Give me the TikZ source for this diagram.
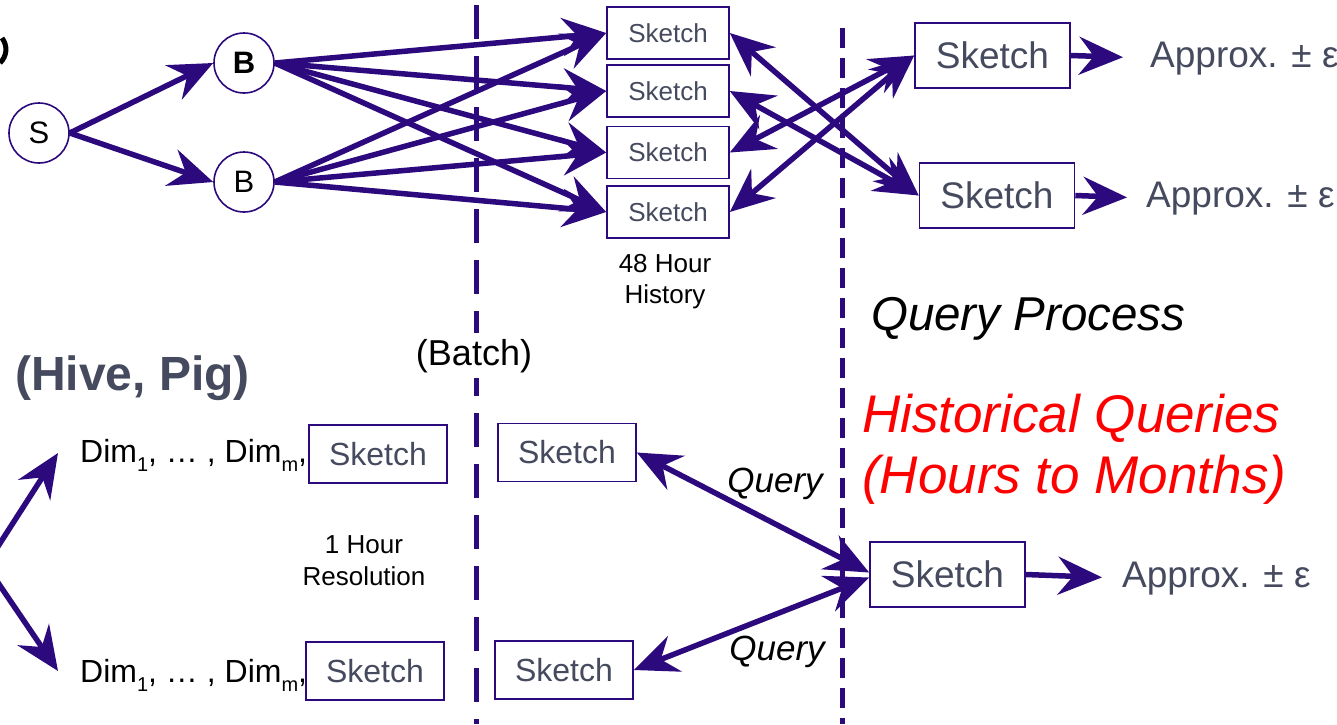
\documentclass[tikz,border=0pt]{standalone}
\usepackage{fontspec}
\setmainfont{Liberation Sans}
\usetikzlibrary{arrows.meta,calc}
\definecolor{pcol}{RGB}{44,10,126}
\definecolor{tcol}{RGB}{70,74,94}
\definecolor{rcol}{RGB}{255,0,0}
\newcommand{\fsz}[1]{\fontsize{#1}{#1}\selectfont}
\newcommand{\lowsub}[1]{\raisebox{-9pt}{\fontsize{20}{20}\selectfont #1}}
\tikzset{
  circ/.style={circle,draw=pcol,line width=1.6pt,fill=white,minimum size=60pt,inner sep=0pt,text=black,font=\fsz{31}},
  skbox/.style={draw=pcol,line width=1.6pt,fill=white,text=tcol,inner sep=0pt},
  sksmall/.style={skbox,minimum width=122pt,minimum height=52pt,font=\fsz{26}},
  skmid/.style={skbox,minimum width=138pt,minimum height=58pt,font=\fsz{32}},
  skbig/.style={skbox,minimum width=155pt,minimum height=65pt,font=\fsz{37}},
  apx/.style={anchor=base west,inner sep=0pt,text=tcol,font=\fsz{37}},
  lbl/.style={inner sep=0pt,text=black},
  tipst/.tip={Stealth[length=44pt,width=38pt,inset=15pt]},
  arr/.style={draw=pcol,line width=5.5pt,-tipst},
  darr/.style={draw=pcol,line width=5.5pt,tipst-tipst},
  vdash/.style={draw=pcol,line width=5pt}
}
\begin{document}
\begin{tikzpicture}[x=1pt,y=-1pt]
\useasboundingbox[fill=white] (0,0) rectangle (1337,724);

% dashed separators
\coordinate (v1t) at (476,5);
\coordinate (v1b) at (476,724);
\coordinate (v2t) at (842,28);
\coordinate (v2b) at (842,724);
\draw[vdash,dash pattern=on 34pt off 17pt] (v1t) -- (v1b);
\draw[vdash,dash pattern=on 20pt off 10pt] (v2t) -- (v2b);

% partial glyph at top-left edge
\draw[black,line width=5pt] (2,38) .. controls (8,46) and (7,56) .. (0,63);

% stream part
\node[circ] (s) at (39,133) {S};
\node[circ,font=\bfseries\fsz{31}] (b1) at (244,63) {B};
\node[circ] (b2) at (244,182) {B};

\node[sksmall] (h1) at (668,33) {Sketch};
\node[sksmall] (h2) at (668,91) {Sketch};
\node[sksmall] (h3) at (668,152.5) {Sketch};
\node[sksmall] (h4) at (668,212) {Sketch};

\node[lbl,font=\fsz{26},align=center,anchor=base] (hist) at (665,303) {48 Hour\\[5pt]History};

\node[skbig] (r1) at (992.5,55.5) {Sketch};
\node[skbig] (r2) at (997,195.5) {Sketch};
\node[apx] (a1) at (1150,67) {Approx. ± ε};
\node[apx] (a2) at (1146,207) {Approx. ± ε};

\draw[arr] (s.east) -- (b1.west);
\draw[arr] (s.east) -- (b2.west);
\foreach \h in {h1,h2,h3,h4}{
  \draw[arr] (b1.east) -- (\h.west);
  \draw[arr] (b2.east) -- (\h.west);
}
\draw[darr] (h1.east) -- (r2.west);
\draw[darr] (h2.east) -- (r2.west);
\draw[darr] (h3.east) -- (r1.west);
\draw[darr] (h4.east) -- (r1.west);
\draw[arr,shorten >=27pt] (r1.east) -- (a1.west);
\draw[arr,shorten >=19pt] (r2.east) -- (a2.west);

% labels
\node[lbl,font=\itshape\fsz{47.5},anchor=base west] (qp) at (871,330) {Query Process};
\node[lbl,font=\bfseries\fsz{48},text=tcol,anchor=base west] (hp) at (15,390) {(Hive, Pig)};
\node[lbl,font=\fsz{36},anchor=base,fill=white,inner sep=6pt] (batch) at (474,365) {(Batch)};
\node[lbl,font=\itshape\fsz{53},text=rcol,anchor=base west] (hq1) at (862,432) {Historical Queries};
\node[lbl,font=\itshape\fsz{53},text=rcol,anchor=base west] (hq2) at (862,493) {(Hours to Months)};

% batch part
\coordinate (src) at (-14,565);
\coordinate (tipu) at (58,453);
\coordinate (tipd) at (58,671);
\draw[arr] (src) -- (tipu);
\draw[arr] (src) -- (tipd);

\node[lbl,font=\fsz{32},anchor=base west] (dim1) at (80,462) {Dim\lowsub{1}, … , Dim\lowsub{m},};
\node[lbl,font=\fsz{32},anchor=base west] (dim2) at (80,682) {Dim\lowsub{1}, … , Dim\lowsub{m},};
\node[skmid] (d1) at (378,454) {Sketch};
\node[skmid] (d2) at (375,671) {Sketch};
\node[lbl,font=\fsz{26},align=center,anchor=base] (res) at (364,585) {1 Hour\\[6pt]Resolution};

\node[skmid] (t1) at (567,452.5) {Sketch};
\node[skmid] (t2) at (564,670) {Sketch};
\node[skbig] (q) at (947.5,574.5) {Sketch};
\node[apx] (aq) at (1122,587) {Approx. ± ε};

\draw[darr] (t1.east) -- ($(q.west)+(0,-2)$);
\draw[darr] (t2.east) -- ($(q.west)+(0,3)$);
\draw[arr,shorten >=20pt] (q.east) -- (aq.west);

\node[lbl,font=\itshape\fsz{35},anchor=base] (ql1) at (775,492) {Query};
\node[lbl,font=\itshape\fsz{35},anchor=base] (ql2) at (777,660) {Query};
\end{tikzpicture}
\end{document}
